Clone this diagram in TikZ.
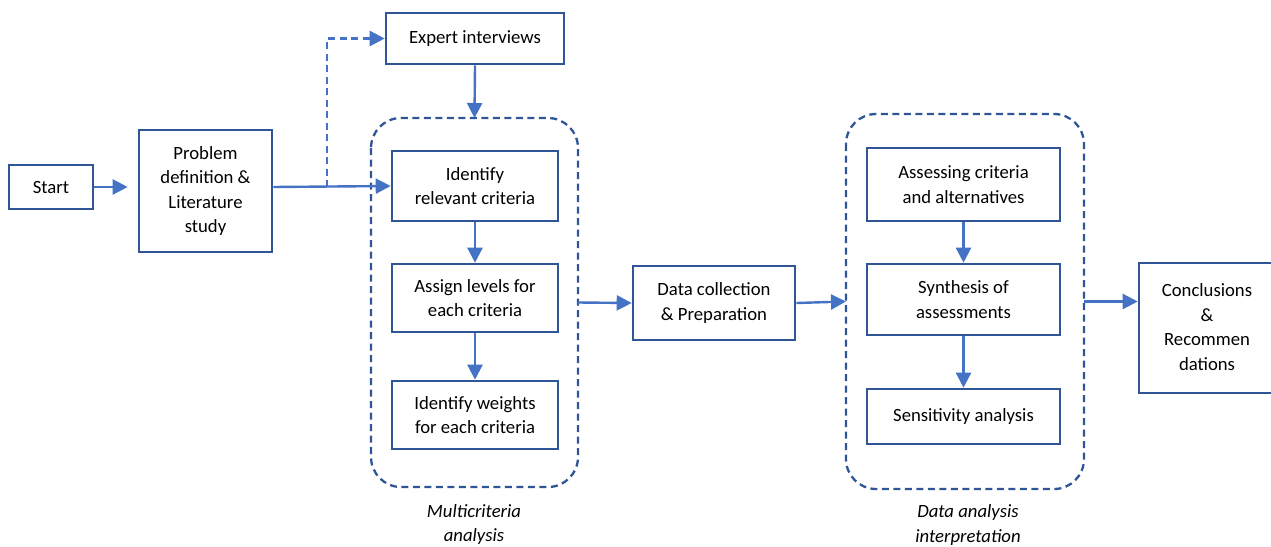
\documentclass[tikz,border=0pt]{standalone}
\usepackage{fontspec}
\setmainfont{Carlito}
\usetikzlibrary{arrows.meta,calc}
\definecolor{boxblue}{HTML}{2F5597}
\definecolor{arrowblue}{HTML}{4472C4}
\tikzset{
  stepbox/.style={draw=boxblue, line width=2.6pt, fill=white, align=center,
    inner sep=0pt, font=\fontsize{18.7}{24.5}\selectfont},
  groupbox/.style={draw=boxblue, line width=2.3pt, dash pattern=on 7pt off 4.5pt,
    rounded corners=30pt},
  flow/.style={draw=arrowblue, line width=2.4pt,
    -{Triangle[length=15pt,width=15pt]}},
  flowdash/.style={flow, dash pattern=on 7pt off 4.5pt},
  caption/.style={align=center, font=\fontsize{18.7}{24.5}\selectfont\itshape}
}
\begin{document}
\begin{tikzpicture}[x=1pt,y=-1pt]
\useasboundingbox (0,0) rectangle (1271,546);

% dashed group frames
\draw[groupbox] (371,118) rectangle (578,487);
\coordinate (mcaN) at (474.5,118);
\coordinate (mcaE) at (578,302.5);
\draw[groupbox] (846,114) rectangle (1084,489);
\coordinate (daiW) at (846,301.5);
\coordinate (daiE) at (1084,301.5);

% process steps
\node[stepbox, minimum width=84pt, minimum height=44pt] (start) at (51,187) {Start};
\node[stepbox, minimum width=133pt, minimum height=122pt] (prob) at (205.5,191) {Problem\\definition \&\\Literature\\study};
\node[stepbox, minimum width=178pt, minimum height=51pt] (expert) at (475,38.5) {Expert interviews};
\node[stepbox, minimum width=166pt, minimum height=70pt] (ident) at (475,186) {Identify\\relevant criteria};
\node[stepbox, minimum width=166pt, minimum height=68pt] (assign) at (475,298) {Assign levels for\\each criteria};
\node[stepbox, minimum width=166pt, minimum height=68pt] (weights) at (475,415) {Identify weights\\for each criteria};
\node[stepbox, minimum width=162pt, minimum height=74pt] (data) at (714,303) {Data collection\\\& Preparation};
\node[stepbox, minimum width=193pt, minimum height=73pt] (assess) at (963.5,184.5) {Assessing criteria\\and alternatives};
\node[stepbox, minimum width=193pt, minimum height=71pt] (synth) at (963.5,299.5) {Synthesis of\\assessments};
\node[stepbox, minimum width=193pt, minimum height=55pt] (sens) at (963.5,416.5) {Sensitivity analysis};
\node[stepbox, minimum width=136pt, minimum height=130pt, text depth=2pt] (concl) at (1207,328) {Conclusions\\\&\\Recommen\\dations};

% group captions
\node[caption] (mcacap) at (474,524.5) {Multicriteria\\analysis};
\node[caption] (daicap) at (968,525) {Data analysis\\interpretation};

% connectors
\draw[flow, shorten >=10pt] (start.east) -- (start.east -| prob.west);
\coordinate (branch) at (327,187);
\draw[flow] (prob.east |- branch) -- (ident.west);
\draw[flowdash] (branch) |- (expert.west);
\draw[flow] (expert.south) -- (mcaN);
\draw[flow] (ident.south) -- (assign.north);
\draw[flow] (assign.south) -- (weights.north);
\draw[flow] (mcaE) -- (data.west);
\draw[flow] (data.east) -- (daiW);
\draw[flow] (assess.south) -- (synth.north);
\draw[flow] (synth.south) -- (sens.north);
\draw[flow] (daiE) -- (daiE -| concl.west);
\end{tikzpicture}
\end{document}
